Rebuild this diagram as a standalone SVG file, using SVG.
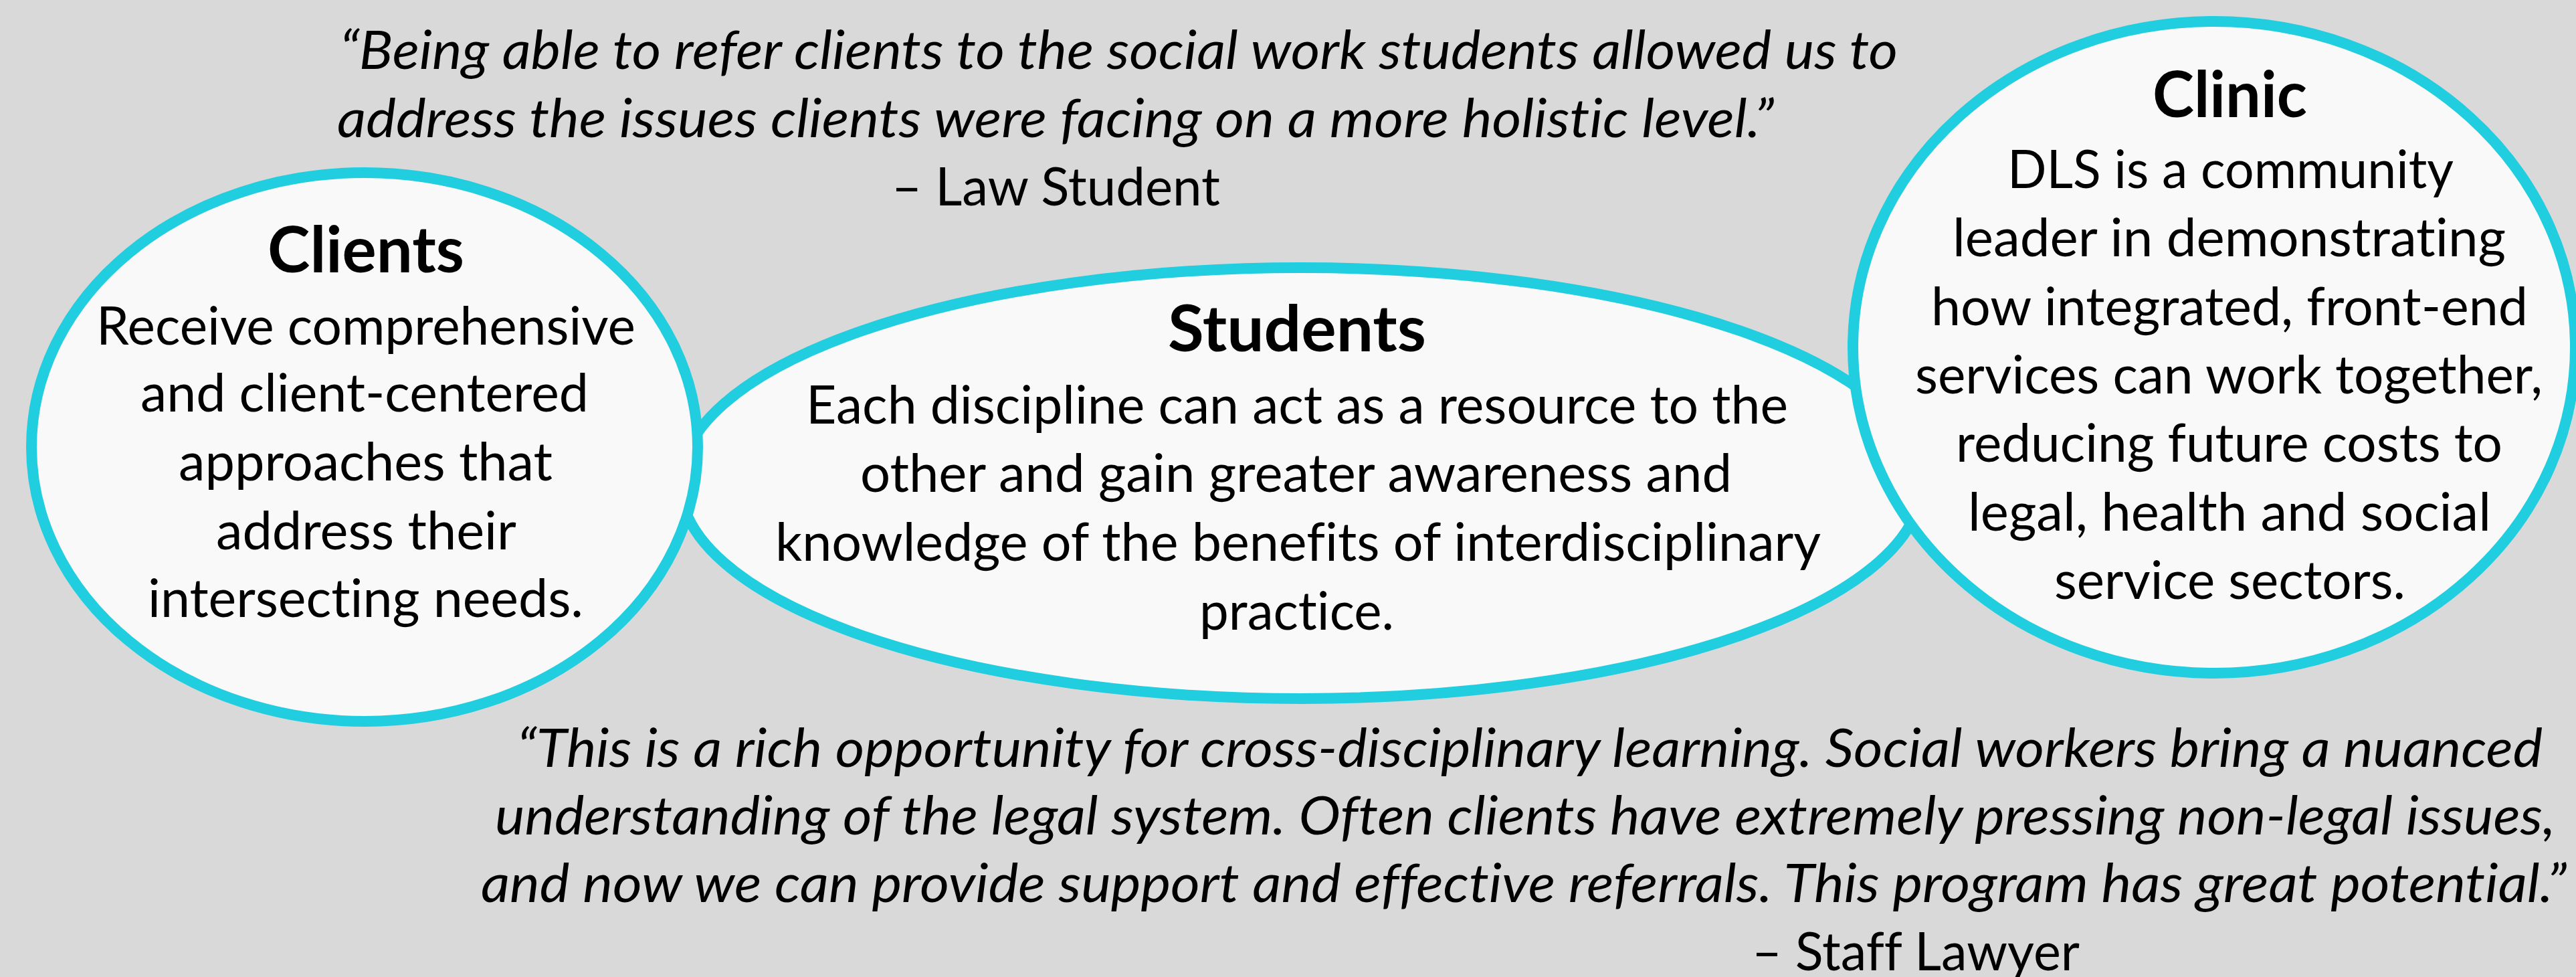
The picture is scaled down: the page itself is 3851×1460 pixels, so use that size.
<svg xmlns="http://www.w3.org/2000/svg" width="3851" height="1460" viewBox="0 0 3851 1460">
<style>
.bg{fill:#d9d9d9}
.node{fill:#f9f9f9;stroke:#20cee0;stroke-width:16}
text{font-family:Lato,"Open Sans","Liberation Sans",sans-serif;fill:#000;font-variant-ligatures:none;font-feature-settings:"liga" 0,"dlig" 0}
.title{font-size:95px;font-weight:bold}
.body{font-size:79px}
.quote{font-size:79px;font-style:italic}
.attr{font-size:79px}
</style>
<rect class="bg" x="0" y="0" width="3851" height="1460"/>
<g id="connectors"></g>
<g id="node-students">
<ellipse class="node" cx="1945" cy="722" rx="928" ry="322"/>
<text class="title" x="1746" y="525" textLength="386" lengthAdjust="spacingAndGlyphs">Students</text>
<text class="body" x="1205" y="633" textLength="1468" lengthAdjust="spacingAndGlyphs">Each discipline can act as a resource to the</text>
<text class="body" x="1286" y="735" textLength="1303" lengthAdjust="spacingAndGlyphs">other and gain greater awareness and</text>
<text class="body" x="1159" y="838" textLength="1563" lengthAdjust="spacingAndGlyphs">knowledge of the benefits of interdisciplinary</text>
<text class="body" x="1793" y="941" textLength="291" lengthAdjust="spacingAndGlyphs">practice.</text>
</g>
<g id="node-clients">
<ellipse class="node" cx="545" cy="668" rx="498" ry="410"/>
<text class="title" x="400" y="407" textLength="294" lengthAdjust="spacingAndGlyphs">Clients</text>
<text class="body" x="144" y="515" textLength="806" lengthAdjust="spacingAndGlyphs">Receive comprehensive</text>
<text class="body" x="210" y="615" textLength="670" lengthAdjust="spacingAndGlyphs">and client-centered</text>
<text class="body" x="267" y="718" textLength="559" lengthAdjust="spacingAndGlyphs">approaches that</text>
<text class="body" x="323" y="821" textLength="449" lengthAdjust="spacingAndGlyphs">address their</text>
<text class="body" x="221" y="922" textLength="651" lengthAdjust="spacingAndGlyphs">intersecting needs.</text>
</g>
<g id="node-clinic">
<ellipse class="node" cx="3310" cy="519" rx="540" ry="487"/>
<text class="title" x="3218" y="175" textLength="231" lengthAdjust="spacingAndGlyphs">Clinic</text>
<text class="body" x="3001" y="281" textLength="667" lengthAdjust="spacingAndGlyphs">DLS is a community</text>
<text class="body" x="2919" y="383" textLength="827" lengthAdjust="spacingAndGlyphs">leader in demonstrating</text>
<text class="body" x="2887" y="486" textLength="892" lengthAdjust="spacingAndGlyphs">how integrated, front-end</text>
<text class="body" x="2863" y="588" textLength="938" lengthAdjust="spacingAndGlyphs">services can work together,</text>
<text class="body" x="2924" y="690" textLength="817" lengthAdjust="spacingAndGlyphs">reducing future costs to</text>
<text class="body" x="2942" y="793" textLength="782" lengthAdjust="spacingAndGlyphs">legal, health and social</text>
<text class="body" x="3071" y="895" textLength="525" lengthAdjust="spacingAndGlyphs">service sectors.</text>
</g>
<g id="quote-law-student">
<text class="quote" x="508" y="103" textLength="2329" lengthAdjust="spacingAndGlyphs">“Being able to refer clients to the social work students allowed us to</text>
<text class="quote" x="504" y="205" textLength="2148" lengthAdjust="spacingAndGlyphs">address the issues clients were facing on a more holistic level.”</text>
<text class="attr" x="1333" y="307" textLength="491" lengthAdjust="spacingAndGlyphs">– Law Student</text>
</g>
<g id="quote-staff-lawyer">
<text class="quote" x="773" y="1146" textLength="3028" lengthAdjust="spacingAndGlyphs">“This is a rich opportunity for cross-disciplinary learning. Social workers bring a nuanced</text>
<text class="quote" x="740" y="1247" textLength="3080" lengthAdjust="spacingAndGlyphs">understanding of the legal system. Often clients have extremely pressing non-legal issues,</text>
<text class="quote" x="719" y="1348" textLength="3118" lengthAdjust="spacingAndGlyphs">and now we can provide support and effective referrals. This program has great potential.”</text>
<text class="attr" x="2619" y="1450" textLength="490" lengthAdjust="spacingAndGlyphs">– Staff Lawyer</text>
</g>
</svg>
